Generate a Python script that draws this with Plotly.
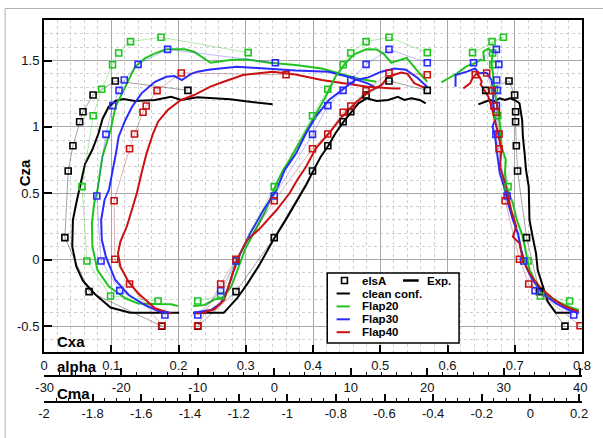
import numpy as np
import plotly.graph_objects as go

# ---------------- elsA computations (squares) ----------------
alpha_clean = [-10, -5, 0, 5, 7, 9, 10, 12, 15, 20]
cza_clean = [-0.50, -0.24, 0.166, 0.668, 0.858, 1.039, 1.114, 1.24, 1.346, 1.275]
cxa_clean = [0.175, 0.067, 0.031, 0.036, 0.043, 0.053, 0.058, 0.073, 0.106, 0.214]
cma_clean = [0.142, 0.037, -0.016, -0.053, -0.058, -0.061, -0.061, -0.065, -0.088, -0.184]

alpha_flap = [-10, -7, -5, 0, 5, 7, 9, 10, 12, 15, 20]
cza_f20 = [-0.311, -0.273, -0.01, 0.55, 1.084, 1.283, 1.468, 1.556, 1.642, 1.675, 1.559]
cxa_f20 = [0.1696, 0.099, 0.0638, 0.0565, 0.0731, 0.0858, 0.1019, 0.1111, 0.1287, 0.174, 0.3036]
cma_f20 = [0.161, 0.041, -0.01, -0.092, -0.135, -0.148, -0.155, -0.156, -0.158, -0.111, -0.238]

cza_f30 = [-0.416, -0.233, -0.01, 0.48, 0.944, 1.16, 1.275, 1.353, 1.471, 1.584, 1.483]
cxa_f30 = [0.1798, 0.1126, 0.0848, 0.0785, 0.0921, 0.1023, 0.1116, 0.1194, 0.1399, 0.1837, 0.344]
cma_f30 = [0.178, 0.019, -0.028, -0.096, -0.142, -0.14, -0.136, -0.139, -0.130, -0.140, -0.234]

cza_f40 = [-0.497, -0.183, 0.003, 0.444, 0.836, 0.947, 1.11, 1.157, 1.273, 1.406, 1.393]
cxa_f40 = [0.1754, 0.1272, 0.1053, 0.1043, 0.1272, 0.1345, 0.1472, 0.152, 0.1681, 0.2042, 0.36]
cma_f40 = [0.204, -0.007, -0.045, -0.104, -0.129, -0.129, -0.14, -0.15, -0.157, -0.18, -0.227]

# ---------------- Experiment (lines) ----------------
# clean configuration
exp_clean_polar_cxa = [0.201, 0.128, 0.099, 0.076, 0.058, 0.048, 0.042, 0.043, 0.049, 0.053, 0.061, 0.072,
                       0.081, 0.087, 0.096, 0.106, 0.118, 0.135, 0.165, 0.189, 0.204, 0.228, 0.277, 0.306, 0.340]
exp_clean_polar_cza = [-0.40, -0.40, -0.36, -0.26, -0.16, -0.05, 0.10, 0.30, 0.45, 0.54, 0.72, 0.83,
                       0.95, 1.06, 1.15, 1.195, 1.21, 1.195, 1.203, 1.227, 1.203, 1.223, 1.208, 1.19, 1.17]
exp_clean_alpha = [-10.6, -6.6, -4.85, -3.5, -1.85, -0.13, 1.5, 2.87, 4.15, 5.09, 6.08, 7.07, 8.0, 9.07,
                   10.06, 11.0, 12.08, 13.4, 14.9, 16.15, 17.0, 17.9, 19.0, 19.8]
exp_clean_alpha_cza = [-0.40, -0.40, -0.29, -0.18, -0.03, 0.148, 0.30, 0.437, 0.56, 0.668, 0.776, 0.858, 0.952,
                       1.039, 1.114, 1.178, 1.215, 1.195, 1.203, 1.227, 1.203, 1.215, 1.203, 1.178]
exp_clean_cma = [-0.214, -0.166, -0.150, -0.126, -0.105, -0.085, -0.065, -0.045, -0.034, -0.031, -0.024, -0.018,
                 -0.007, -0.007, -0.004, 0.009, 0.023, 0.03, 0.05, 0.071, 0.104, 0.165]
exp_clean_cma_cza = [1.170, 1.203, 1.19, 1.215, 1.203, 1.215, 1.203, 1.178, 1.052, 0.926, 0.801, 0.675,
                     0.55, 0.425, 0.299, 0.173, 0.048, -0.078, -0.203, -0.316, -0.40, -0.40]

# Flap20
exp_f20_polar_cxa = [0.199, 0.189, 0.165, 0.140, 0.121, 0.0965, 0.0795, 0.072, 0.0712, 0.0746, 0.0795, 0.0868,
                     0.099, 0.1063, 0.121, 0.1355, 0.150, 0.165, 0.182, 0.209, 0.223, 0.2476, 0.2768, 0.301,
                     0.335, 0.374, 0.413, 0.447, 0.472, 0.494]
exp_f20_polar_cza = [-0.349, -0.336, -0.334, -0.329, -0.291, -0.203, -0.078, 0.098, 0.274, 0.425, 0.525, 0.776,
                     0.977, 1.152, 1.303, 1.453, 1.516, 1.554, 1.584, 1.584, 1.566, 1.483, 1.503, 1.508,
                     1.483, 1.466, 1.44, 1.39, 1.358, 1.34]
exp_f20_alpha = [-10.6, -9.1, -7.8, -6.6, -5.6, -4.6, -3.8, -2.5, -1.2, 0.3, 1.16, 2.0, 3.73, 5.44, 6.72, 8.0,
                 9.3, 10.4, 12.0, 13.4, 14.3, 15.3, 17.3, 18.6, 20.0]
exp_f20_alpha_cza = [-0.349, -0.341, -0.30, -0.28, -0.20, -0.05, 0.08, 0.22, 0.36, 0.575, 0.675, 0.751, 0.926,
                     1.102, 1.227, 1.378, 1.478, 1.545, 1.584, 1.582, 1.55, 1.483, 1.52, 1.43, 1.34]
exp_f20_cma = [-0.366, -0.301, -0.262, -0.227, -0.207, -0.190, -0.194, -0.173, -0.155, -0.16, -0.153, -0.146,
               -0.133, -0.124, -0.119, -0.101, -0.105, -0.099, -0.072, -0.056, -0.031, -0.018, -0.004, 0.023,
               0.063, 0.104, 0.158, 0.199]
exp_f20_cma_cza = [1.336, 1.404, 1.458, 1.48, 1.503, 1.50, 1.566, 1.59, 1.56, 1.479, 1.378, 1.253,
                   1.127, 1.001, 0.851, 0.751, 0.651, 0.55, 0.425, 0.299, 0.173, 0.048, -0.078, -0.178,
                   -0.253, -0.309, -0.354, -0.379]

# Flap30
exp_f30_polar_cxa = [0.189, 0.170, 0.150, 0.126, 0.106, 0.092, 0.086, 0.085, 0.090, 0.0965, 0.107, 0.111,
                     0.121, 0.131, 0.145, 0.165, 0.182, 0.194, 0.205, 0.218, 0.228, 0.2475, 0.2865, 0.3256,
                     0.374, 0.423, 0.452, 0.481, 0.491]
exp_f30_polar_cza = [-0.404, -0.386, -0.341, -0.266, -0.153, 0.023, 0.148, 0.299, 0.45, 0.525, 0.801, 0.926,
                     1.052, 1.152, 1.253, 1.34, 1.378, 1.383, 1.353, 1.398, 1.416, 1.433, 1.453, 1.44,
                     1.425, 1.416, 1.378, 1.328, 1.303]
exp_f30_alpha = [-10.6, -9.77, -8.28, -7.0, -6.13, -5.27, -4.42, -3.14, -1.41, 0.3, 1.36, 2.86, 4.15, 5.44,
                 7.15, 8.87, 10.58, 12.3, 14.0, 15.7, 17.2, 18.7, 20.0]
exp_f30_alpha_cza = [-0.404, -0.392, -0.379, -0.328, -0.228, -0.078, 0.048, 0.199, 0.374, 0.525, 0.675, 0.801,
                     0.952, 1.077, 1.203, 1.278, 1.353, 1.373, 1.416, 1.44, 1.43, 1.37, 1.30]
exp_f30_cma = [-0.308, -0.308, -0.261, -0.227, -0.213, -0.18, -0.16, -0.153, -0.153, -0.146, -0.156, -0.146,
               -0.137, -0.126, -0.108, -0.092, -0.072, -0.051, -0.038, -0.018, 0.009, 0.05, 0.104, 0.158, 0.199]
exp_f30_cma_cza = [1.303, 1.391, 1.416, 1.44, 1.404, 1.408, 1.353, 1.278, 1.178, 1.052, 1.001, 0.939,
                   0.801, 0.651, 0.55, 0.425, 0.299, 0.199, 0.073, -0.053, -0.153, -0.253, -0.328, -0.379, -0.404]

# Flap40
exp_f40_polar_cxa = [0.189, 0.165, 0.140, 0.1257, 0.1136, 0.110, 0.1136, 0.123, 0.1306, 0.138, 0.145, 0.1525,
                     0.1623, 0.1696, 0.184, 0.2037, 0.2232, 0.2475, 0.267, 0.296, 0.34, 0.374, 0.413, 0.447,
                     0.481, 0.52, 0.53]
exp_f40_polar_cza = [-0.404, -0.366, -0.253, -0.166, -0.053, 0.048, 0.136, 0.248, 0.374, 0.50, 0.651, 0.801,
                     0.952, 1.039, 1.127, 1.203, 1.240, 1.303, 1.34, 1.391, 1.416, 1.395, 1.353, 1.328,
                     1.303, 1.29, 1.29]
exp_f40_alpha = [-10.4, -9.56, -7.84, -6.56, -5.7, -4.85, -3.56, -1.85, 0.3, 2.0, 3.0, 4.15, 5.44, 7.15, 8.87,
                 10.58, 12.3, 14.0, 14.9, 16.6, 17.4, 18.3, 19.8]
exp_f40_alpha_cza = [-0.404, -0.404, -0.373, -0.303, -0.153, 0.003, 0.148, 0.236, 0.374, 0.50, 0.60, 0.70,
                     0.839, 0.952, 1.077, 1.178, 1.265, 1.315, 1.378, 1.41, 1.40, 1.33, 1.29]
exp_f40_cma = [-0.276, -0.248, -0.24, -0.221, -0.21, -0.2, -0.205, -0.194, -0.173, -0.16, -0.146, -0.133,
               -0.119, -0.126, -0.112, -0.098, -0.079, -0.058, -0.072, -0.045, -0.031, -0.004, 0.037, 0.09,
               0.144, 0.199]
exp_f40_cma_cza = [1.29, 1.328, 1.36, 1.404, 1.38, 1.34, 1.32, 1.29, 1.227, 1.152, 1.052, 0.952,
                   0.826, 0.70, 0.625, 0.53, 0.374, 0.248, 0.173, 0.123, -0.002, -0.102, -0.203, -0.291,
                   -0.354, -0.392]

# ---------------- axes ticks ----------------
cxa_ticks = [0, 0.1, 0.2, 0.3, 0.4, 0.5, 0.6, 0.7, 0.8]
cza_ticks = [-0.5, 0, 0.5, 1, 1.5]
alpha_ticks = [-30, -20, -10, 0, 10, 20, 30, 40]
cma_ticks = [-2, -1.8, -1.6, -1.4, -1.2, -1, -0.8, -0.6, -0.4, -0.2, 0, 0.2]
legend_labels = ["clean conf.", "Flap20", "Flap30", "Flap40"]

# ---------------- styling ----------------
W, H = 603, 438
ML, MR, MT, MB = 44, 12, 20, 36
PW = W - ML - MR
PH = H - MT - MB


def pxx(x):
    return (x - ML) / PW


def pxy(y):
    return (H - MB - y) / PH


COL = {"clean": "#000000", "f20": "#1fc41f", "f30": "#2b2bff", "f40": "#cc1010"}
THIN = {"clean": "rgba(0,0,0,0.45)", "f20": "rgba(31,196,31,0.45)",
        "f30": "rgba(43,43,255,0.40)", "f40": "rgba(150,40,40,0.45)"}

FONT = "Liberation Sans, Arial, Helvetica, sans-serif"

fig = go.Figure()

exp_sets = {
    "clean": (exp_clean_polar_cxa, exp_clean_polar_cza, exp_clean_alpha, exp_clean_alpha_cza,
              exp_clean_cma, exp_clean_cma_cza),
    "f20": (exp_f20_polar_cxa, exp_f20_polar_cza, exp_f20_alpha, exp_f20_alpha_cza, exp_f20_cma, exp_f20_cma_cza),
    "f30": (exp_f30_polar_cxa, exp_f30_polar_cza, exp_f30_alpha, exp_f30_alpha_cza, exp_f30_cma, exp_f30_cma_cza),
    "f40": (exp_f40_polar_cxa, exp_f40_polar_cza, exp_f40_alpha, exp_f40_alpha_cza, exp_f40_cma, exp_f40_cma_cza),
}
els_sets = {
    "clean": (alpha_clean, cza_clean, cxa_clean, cma_clean),
    "f20": (alpha_flap, cza_f20, cxa_f20, cma_f20),
    "f30": (alpha_flap, cza_f30, cxa_f30, cma_f30),
    "f40": (alpha_flap, cza_f40, cxa_f40, cma_f40),
}

for key in ["clean", "f20", "f30", "f40"]:
    a, b, c, d, e, f = exp_sets[key]
    for xs, ys, xa in [(a, b, "x"), (c, d, "x2"), (e, f, "x3")]:
        fig.add_trace(go.Scatter(x=xs, y=ys, xaxis=xa, yaxis="y", mode="lines",
                                 line=dict(color=COL[key], width=2), showlegend=False, hoverinfo="skip"))

for key in ["clean", "f20", "f30", "f40"]:
    al, cz, cx, cm = els_sets[key]
    for xs, xa in [(cx, "x"), (al, "x2"), (cm, "x3")]:
        fig.add_trace(go.Scatter(x=xs, y=cz, xaxis=xa, yaxis="y", mode="lines",
                                 line=dict(color=THIN[key], width=0.8), showlegend=False, hoverinfo="skip"))
        fig.add_trace(go.Scatter(x=xs, y=cz, xaxis=xa, yaxis="y", mode="markers",
                                 marker=dict(symbol="square-open", size=6, color=COL[key],
                                             line=dict(width=1.6, color=COL[key])),
                                 showlegend=False, hoverinfo="skip"))

tickfont = dict(family=FONT, size=13, color="#111")
ydom0 = pxy(352)

fig.update_layout(
    width=W, height=H, margin=dict(l=ML, r=MR, t=MT, b=MB),
    paper_bgcolor="white", plot_bgcolor="white", showlegend=False,
    xaxis=dict(domain=[0, 1], range=[0, 0.8], anchor="y", showline=True, mirror=True, linecolor="black",
               linewidth=2, ticks="inside", ticklen=7, tickwidth=1.5, tickcolor="black",
               tickmode="array", tickvals=cxa_ticks, ticktext=[f"{v:g}" for v in cxa_ticks],
               showgrid=True, gridcolor="#a8a8a8", gridwidth=1, zeroline=False, tickfont=tickfont,
               minor=dict(tickmode="array", tickvals=list(np.round(np.arange(0, 0.801, 0.02), 3)),
                          showgrid=True, gridcolor="#cfcfcf", griddash="dot", gridwidth=1, ticks="")),
    yaxis=dict(domain=[ydom0, 1], range=[-0.695, 1.805], anchor="x", showline=True, mirror=True,
               linecolor="black", linewidth=2, ticks="inside", ticklen=8, tickwidth=1.5, tickcolor="black",
               tickmode="array", tickvals=cza_ticks, ticktext=[f"{v:g}" for v in cza_ticks],
               showgrid=True, gridcolor="#a8a8a8", gridwidth=1, zeroline=False, tickfont=tickfont,
               minor=dict(tickmode="array", tickvals=list(np.round(np.arange(-0.6, 1.81, 0.1), 2)),
                          showgrid=True, gridcolor="#cfcfcf", griddash="dot", gridwidth=1, ticks="")),
    xaxis2=dict(overlaying="x", anchor="free", position=pxy(376), range=[-30.09, 40.22], side="bottom",
                showline=True, linecolor="black", linewidth=1.5, ticks="inside", ticklen=7, tickwidth=1.5,
                tickcolor="black", tickmode="array", tickvals=alpha_ticks,
                ticktext=[f"{v:g}" for v in alpha_ticks], showgrid=False, zeroline=False, tickfont=tickfont,
                minor=dict(tickmode="array", tickvals=list(range(-30, 41, 2)), ticks="inside", ticklen=3,
                           tickwidth=1, tickcolor="black", showgrid=False)),
    xaxis3=dict(overlaying="x", anchor="free", position=0, range=[-2, 0.212], side="bottom",
                showline=True, linecolor="black", linewidth=1.5, ticks="inside", ticklen=7, tickwidth=1.5,
                tickcolor="black", tickmode="array", tickvals=cma_ticks,
                ticktext=[f"{v:g}" for v in cma_ticks], showgrid=False, zeroline=False, tickfont=tickfont,
                minor=dict(tickmode="array", tickvals=list(np.round(np.arange(-2, 0.201, 0.05), 2)),
                           ticks="inside", ticklen=3, tickwidth=1, tickcolor="black", showgrid=False)),
)

tfont = dict(family=FONT, size=15, color="black")
ann = [
    dict(x=pxx(25), y=pxy(173), text="<b>Cza</b>", textangle=-90, font=tfont),
    dict(x=pxx(55), y=pxy(341.5), text="<b>Cxa</b>", xanchor="left", font=tfont),
    dict(x=pxx(55), y=pxy(366), text="<b>alpha</b>", xanchor="left", font=tfont),
    dict(x=pxx(55), y=pxy(393), text="<b>Cma</b>", xanchor="left", font=tfont),
]
lfont = dict(family=FONT, size=11.5, color="black")
ann.append(dict(x=pxx(365), y=pxy(280.5), text="<b>elsA</b>", xanchor="left", font=lfont))
ann.append(dict(x=pxx(431), y=pxy(280.5), text="<b>Exp.</b>", xanchor="left", font=lfont))
ly = [293.5, 306.4, 319.3, 332.2]
for lab, yy in zip(legend_labels, ly):
    ann.append(dict(x=pxx(365), y=pxy(yy), text=f"<b>{lab}</b>", xanchor="left", font=lfont))
for a_ in ann:
    a_.update(xref="paper", yref="paper", showarrow=False, yanchor="middle")
    a_.setdefault("xanchor", "center")
fig.update_layout(annotations=ann)

shapes = [
    # outer frame
    dict(type="rect", xref="paper", yref="paper", x0=pxx(4.5), x1=pxx(640), y0=pxy(480), y1=pxy(8.5),
         line=dict(color="#b0b0b0", width=1), fillcolor="rgba(0,0,0,0)", layer="below"),
    # legend box
    dict(type="rect", xref="paper", yref="paper", x0=pxx(332), x1=pxx(466), y0=pxy(343), y1=pxy(273),
         line=dict(color="black", width=1.5), fillcolor="white", layer="above"),
    dict(type="rect", xref="paper", yref="paper", x0=pxx(346.5), x1=pxx(352.5), y0=pxy(283.5), y1=pxy(277.5),
         line=dict(color="black", width=1.6), fillcolor="white", layer="above"),
    dict(type="line", xref="paper", yref="paper", x0=pxx(409), x1=pxx(425), y0=pxy(280.5), y1=pxy(280.5),
         line=dict(color="black", width=2.5), layer="above"),
]
for key, yy in zip(["clean", "f20", "f30", "f40"], ly):
    shapes.append(dict(type="line", xref="paper", yref="paper", x0=pxx(341.5), x1=pxx(355), y0=pxy(yy),
                       y1=pxy(yy), line=dict(color=COL[key], width=2), layer="above"))
fig.update_layout(shapes=shapes)

fig.write_html("out.html")
